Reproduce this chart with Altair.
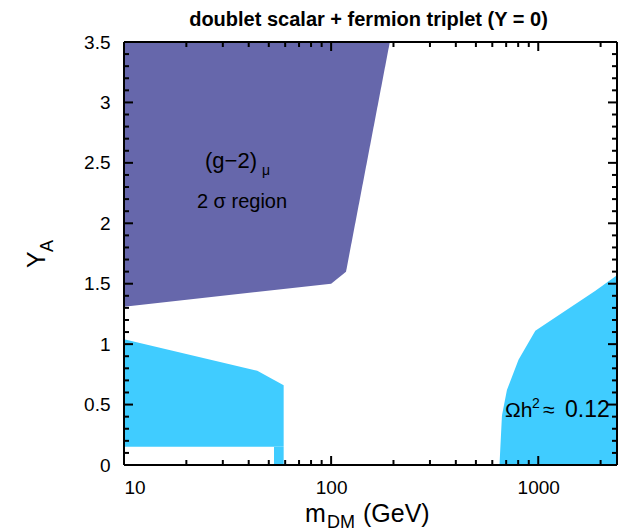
import math
import altair as alt
import pandas as pd

# (g-2)_mu 2-sigma band: lower edge vs dark-matter mass, closed at the top of the plot
gm2_mass = [10, 100, 118, 192]
gm2_lower = [1.31, 1.50, 1.60, 3.5]
gm2_top = 3.5

# relic-density band, light-mass branch
relic_low_mass = [10, 44, 59]
relic_low_upper = [1.04, 0.78, 0.66]
relic_low_floor = 0.15
relic_strip_mass = [53, 59]
relic_strip_y = [0.0, 0.15]

# relic-density band, heavy-mass branch (edge given as mass vs Y_A)
relic_high_y = [0.0, 0.41, 0.62, 0.87, 1.11, 1.44, 1.57]
relic_high_mass = [650, 668, 706, 803, 968, 1880, 2400]

x_domain = [10, 2400]
y_domain = [0, 3.5]
x_major = [10, 100, 1000]
x_minor = [20, 30, 40, 50, 60, 70, 80, 90, 200, 300, 400, 500, 600, 700, 800, 900, 2000]
y_major = [0, 0.5, 1, 1.5, 2, 2.5, 3, 3.5]
y_minor = [round(0.1 * i, 1) for i in range(36) if i % 5 != 0]

W, H = 493, 423
FONT = "Liberation Sans"
PURPLE = "#6667AB"
CYAN = "#40CCFF"

xs = alt.Scale(type="log", domain=x_domain, nice=False)
ys = alt.Scale(domain=y_domain, nice=False, zero=False)

x_axis = alt.Axis(values=x_major, format="d", title=None, ticks=False, domain=False,
                  grid=False, labelFont=FONT, labelFontSize=19, labelColor="black",
                  labelPadding=13, tickSize=0)
y_axis = alt.Axis(values=y_major, format="~g", title=None, ticks=False, domain=False,
                  grid=False, labelFont=FONT, labelFontSize=19, labelColor="black",
                  labelPadding=14, tickSize=0)

gm2_df = pd.DataFrame({"m": gm2_mass, "lo": gm2_lower, "hi": [gm2_top] * len(gm2_mass)})
gm2 = alt.Chart(gm2_df).mark_area(color=PURPLE, opacity=1, clip=True).encode(
    x=alt.X("m:Q", scale=xs, axis=x_axis),
    y=alt.Y("lo:Q", scale=ys, axis=y_axis),
    y2="hi:Q",
)

low_df = pd.DataFrame({"m": relic_low_mass, "hi": relic_low_upper,
                       "lo": [relic_low_floor] * len(relic_low_mass)})
relic_low = alt.Chart(low_df).mark_area(color=CYAN, opacity=1, clip=True).encode(
    x=alt.X("m:Q", scale=xs), y=alt.Y("lo:Q", scale=ys), y2="hi:Q"
)

strip_df = pd.DataFrame({"m0": [relic_strip_mass[0]], "m1": [relic_strip_mass[1]],
                         "y0": [relic_strip_y[0]], "y1": [relic_strip_y[1]]})
relic_strip = alt.Chart(strip_df).mark_rect(color=CYAN, opacity=1, clip=True).encode(
    x=alt.X("m0:Q", scale=xs), x2="m1:Q", y=alt.Y("y0:Q", scale=ys), y2="y1:Q"
)

high_df = pd.DataFrame({"y": relic_high_y, "m": relic_high_mass,
                        "edge": [x_domain[1]] * len(relic_high_y)})
relic_high = alt.Chart(high_df).mark_area(color=CYAN, opacity=1, orient="horizontal",
                                          clip=True).encode(
    y=alt.Y("y:Q", scale=ys), x=alt.X("m:Q", scale=xs), x2="edge:Q"
)

# inward ticks on all four sides; pixel lengths converted to data units
y_per_px = (y_domain[1] - y_domain[0]) / H
logx_per_px = math.log10(x_domain[1] / x_domain[0]) / W

def xticks(vals, length):
    dy = length * y_per_px
    rows = []
    for v in vals:
        rows.append({"xa": v, "xb": v, "ya": y_domain[0], "yb": y_domain[0] + dy})
        rows.append({"xa": v, "xb": v, "ya": y_domain[1], "yb": y_domain[1] - dy})
    return pd.DataFrame(rows)

def yticks(vals, length):
    f = 10 ** (length * logx_per_px)
    rows = []
    for v in vals:
        rows.append({"xa": x_domain[0], "xb": x_domain[0] * f, "ya": v, "yb": v})
        rows.append({"xa": x_domain[1], "xb": x_domain[1] / f, "ya": v, "yb": v})
    return pd.DataFrame(rows)

tick_df = pd.concat([xticks(x_major, 9), xticks(x_minor, 5),
                     yticks(y_major, 9), yticks(y_minor, 5)], ignore_index=True)
ticks = alt.Chart(tick_df).mark_rule(color="black", strokeWidth=2).encode(
    x=alt.X("xa:Q", scale=xs), x2="xb:Q",
    y=alt.Y("ya:Q", scale=ys), y2="yb:Q",
)

frame_src = pd.DataFrame({"k": [0]})
frame = [
    alt.Chart(frame_src).mark_rule(color="black", strokeWidth=2).encode(
        x=alt.value(0), x2=alt.value(W), y=alt.value(0)),
    alt.Chart(frame_src).mark_rule(color="black", strokeWidth=2).encode(
        x=alt.value(0), x2=alt.value(W), y=alt.value(H)),
    alt.Chart(frame_src).mark_rule(color="black", strokeWidth=2).encode(
        x=alt.value(0), y=alt.value(0), y2=alt.value(H)),
    alt.Chart(frame_src).mark_rule(color="black", strokeWidth=2).encode(
        x=alt.value(W), y=alt.value(0), y2=alt.value(H)),
]

def label(text, x, y, size, align="left", angle=0, weight="normal"):
    kw = dict(text=text, align=align, baseline="alphabetic", font=FONT,
              fontSize=size, color="black", fontWeight=weight)
    if angle:
        kw["angle"] = angle
    return alt.Chart(frame_src).mark_text(**kw).encode(x=alt.value(x), y=alt.value(y))

texts = [
    label("doublet scalar + fermion triplet (Y = 0)", W / 2 - 2, -16, 20,
          align="center", weight="bold"),
    label("(g\u22122)", 81, 126, 22),
    label("\u03bc", 138, 133, 14),
    label("2 \u03c3 region", 118, 166, 20, align="center"),
    label("\u03a9h", 381, 375, 21),
    label("2", 408, 366, 14),
    label("\u2248", 419, 375, 21),
    label("0.12", 441, 375, 23),
    label("m", 181, 480, 25),
    label("DM", 203, 486, 18),
    label("(GeV)", 239, 480, 25),
    label("Y", -79, 226, 25, angle=270),
    label("A", -71, 210, 18, angle=270),
]

chart = alt.layer(gm2, relic_low, relic_strip, relic_high, *frame, *texts, ticks).properties(
    width=W, height=H,
    autosize=alt.AutoSizeParams(type="none"),
    padding={"left": 124, "top": 42, "right": 9, "bottom": 66},
).configure_view(stroke=None)

chart.save("out.html", embed_options={"renderer": "svg", "actions": False})
